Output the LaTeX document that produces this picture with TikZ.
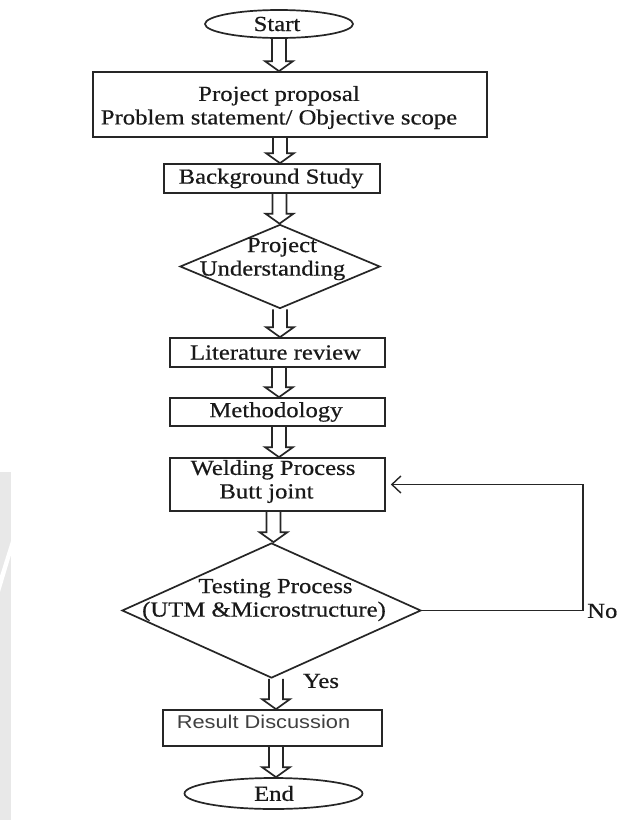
\documentclass[tikz,border=0pt]{standalone}
\usepackage{fontspec}
\newfontfamily\dfont[FakeStretch=1.15,FakeBold=0.5]{Liberation Serif}
\newfontfamily\dsans[FakeStretch=1.18]{Liberation Sans}
\usetikzlibrary{shapes.geometric,arrows.meta,calc}
\newcommand{\hollowarrow}[3]{%
  \draw[harr] let \p1=(#2.south), \p2=(#3.north) in
    ({#1pt-7pt},\y1) -- ({#1pt-7pt},{\y2+10pt}) -- ({#1pt-14pt},{\y2+10pt}) --
    (#1pt,\y2) -- ({#1pt+14pt},{\y2+10pt}) -- ({#1pt+7pt},{\y2+10pt}) -- ({#1pt+7pt},\y1);}
\tikzset{
  shp/.style={draw=black!85, line width=1.7pt, inner sep=0pt, fill=white},
  boxs/.style={shp, rectangle},
  ell/.style={shp, ellipse},
  dia/.style={shp, diamond},
  lbl/.style={font=\dfont\fontsize{21.5}{23.5}\selectfont, align=center, inner sep=0pt, text=black!90},
  slbl/.style={font=\dsans\fontsize{18.5}{21}\selectfont, align=center, inner sep=0pt, text=black!75},
  harr/.style={draw=black!85, line width=1.7pt, line join=miter},
  loopline/.style={draw=black!85, line width=1.4pt, -{Straight Barb[length=9pt,width=17pt,line width=1.4pt]}, shorten >=5pt}
}
\begin{document}
\begin{tikzpicture}[x=1pt,y=-1pt]
\useasboundingbox (0,0) rectangle (634,820);
\fill[white] (0,0) rectangle (634,820);
% faint watermark strip at the left edge
\fill[gray!18] (0,472) rectangle (11,820);
\fill[white] (0,576) -- (11,541) -- (11,555) -- (0,592) -- cycle;

\node[ell, minimum width=148, minimum height=28,
  label={[lbl,xshift=-2pt]center:{Start}}] (start) at (279,24) {};
\node[boxs, minimum width=394, minimum height=65,
  label={[lbl,xshift=-11pt,yshift=-3pt]center:{Project proposal\\Problem statement/ Objective scope}}] (proj) at (290,104.5) {};
\node[boxs, minimum width=216, minimum height=29,
  label={[lbl,xshift=-1pt]center:{Background Study}}] (bg) at (272,178.5) {};
\node[dia, minimum width=200, minimum height=84,
  label={[lbl,xshift=2pt,yshift=7.5pt]center:{Project\\\hspace*{-19pt}Understanding}}] (pu) at (280,266.5) {};
\node[boxs, minimum width=215, minimum height=29,
  label={[lbl,xshift=-2pt]center:{Literature review}}] (lit) at (277.5,352.5) {};
\node[boxs, minimum width=215, minimum height=28,
  label={[lbl,xshift=-1.5pt]center:{Methodology}}] (meth) at (277.5,412) {};
\node[boxs, minimum width=215, minimum height=53,
  label={[lbl,xshift=-4.5pt,yshift=3pt]center:{Welding Process\\\hspace*{-13pt}Butt joint}}] (weld) at (277.5,484.5) {};
\node[dia, minimum width=299, minimum height=135,
  label={[lbl,xshift=4pt,yshift=10.5pt]center:{Testing Process\\\hspace*{-23pt}(UTM \&Microstructure)}}] (test) at (271.5,610.5) {};
\node[boxs, minimum width=219, minimum height=36,
  label={[slbl,xshift=-9pt,yshift=6pt]center:{Result Discussion}}] (res) at (272.5,728) {};
\node[ell, minimum width=178, minimum height=31,
  label={[lbl,xshift=0.5pt]center:{End}}] (endn) at (273.5,793.5) {};

\hollowarrow{279}{start}{proj}
\hollowarrow{280}{proj}{bg}
\hollowarrow{279.5}{bg}{pu}
\hollowarrow{280}{pu}{lit}
\hollowarrow{279}{lit}{meth}
\hollowarrow{279}{meth}{weld}
\hollowarrow{273.5}{weld}{test}
\hollowarrow{276}{test}{res}
\hollowarrow{276}{res}{endn}

\coordinate (c1) at (583,610.5);
\draw[loopline] (test.east) -- (c1) -- (c1 |- weld.east) -- (weld.east);
\node[lbl, anchor=west] (no) at (587,611) {No};
\node[lbl] (yes) at (321,681) {Yes};
\end{tikzpicture}
\end{document}
